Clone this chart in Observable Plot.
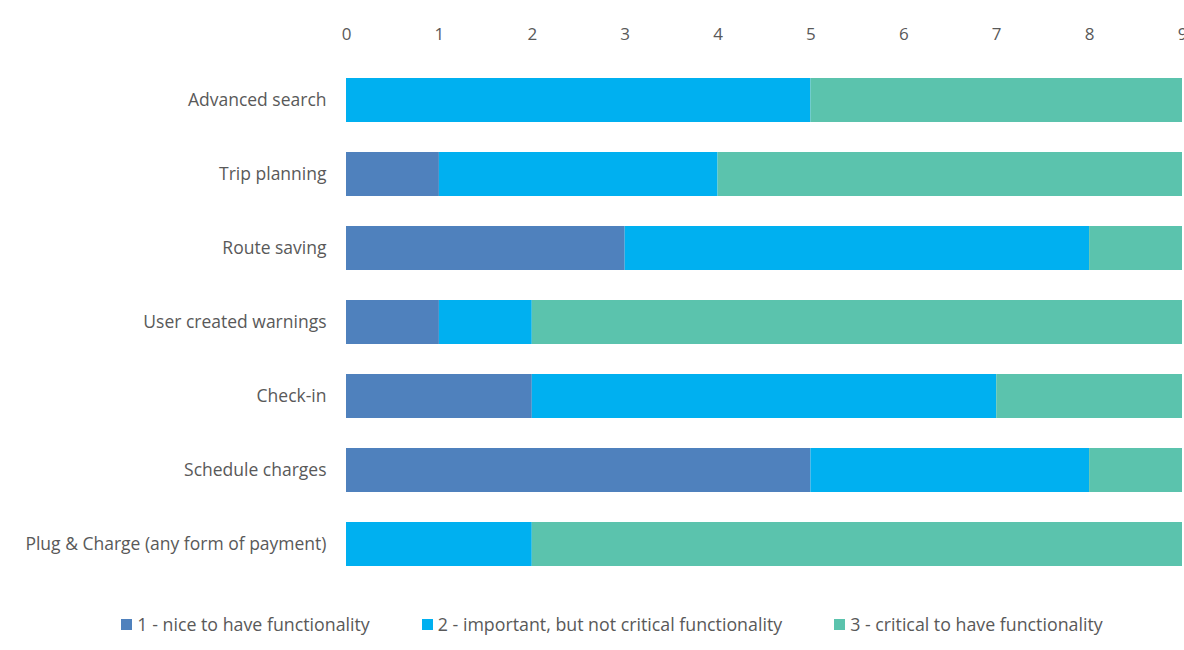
<!DOCTYPE html>
<html>
<head>
<meta charset="utf-8">
<script src="https://cdn.jsdelivr.net/npm/d3@7"></script>
<script src="https://cdn.jsdelivr.net/npm/@observablehq/plot@0.6"></script>
<style>
  html, body { margin: 0; padding: 0; background: #fff; }
  #chart { width: 1184px; }
  .legend { display: flex; justify-content: center; gap: 52px; padding-top: 12px; margin-left: 40px;
    font-family: "Open Sans", sans-serif; font-size: 17.8px; color: #595959; }
  .legend span.sw { display: inline-block; width: 11px; height: 11px; margin-right: 5px; vertical-align: 1px; }
</style>
</head>
<body>
<div id="chart"></div>
<script>
const categories = [
  "Advanced search",
  "Trip planning",
  "Route saving",
  "User created warnings",
  "Check-in",
  "Schedule charges",
  "Plug & Charge (any form of payment)"
];
const seriesNames = [
  "1 - nice to have functionality",
  "2 - important, but not critical functionality",
  "3 - critical to have functionality"
];
const niceToHave = [0, 1, 3, 1, 2, 5, 0];
const important = [5, 3, 5, 1, 5, 3, 2];
const critical = [4, 5, 1, 7, 2, 1, 7];
const xTicks = [0, 1, 2, 3, 4, 5, 6, 7, 8, 9];
const colors = ["#4f81bd", "#00b0f0", "#5bc3ad"];

const seriesValues = [niceToHave, important, critical];
const rows = [];
categories.forEach((c, i) => {
  seriesValues.forEach((vals, s) => {
    rows.push({category: c, series: seriesNames[s], value: vals[i]});
  });
});

const plot = Plot.plot({
  width: 1184,
  height: 600,
  marginLeft: 346,
  marginRight: 2,
  marginTop: 61,
  marginBottom: 18,
  style: {fontFamily: "'Open Sans', sans-serif", fontSize: "17.5px", color: "#595959", background: "#fff"},
  x: {domain: [0, 9], ticks: xTicks, label: null},
  y: {domain: categories, paddingInner: 0.41, paddingOuter: 0.205, label: null},
  color: {domain: seriesNames, range: colors},
  marks: [
    Plot.gridX(xTicks, {stroke: "#d9d9d9", strokeOpacity: 1, strokeWidth: 1, y1: 62, y2: 580}),
    Plot.barX(rows, Plot.stackX({y: "category", x: "value", fill: "series"})),
    Plot.axisX(xTicks, {anchor: "top", tickSize: 0, tickPadding: 22, label: null, fill: "#595959", fontSize: 17}),
    Plot.axisY({anchor: "left", tickSize: 0, tickPadding: 20, label: null, fill: "#595959", fontSize: 17.5})
  ]
});
document.getElementById("chart").appendChild(plot);

const legend = document.createElement("div");
legend.className = "legend";
seriesNames.forEach((n, i) => {
  const item = document.createElement("div");
  const sw = document.createElement("span");
  sw.className = "sw";
  sw.style.background = colors[i];
  item.appendChild(sw);
  item.appendChild(document.createTextNode(n));
  legend.appendChild(item);
});
document.getElementById("chart").appendChild(legend);
</script>
</body>
</html>
